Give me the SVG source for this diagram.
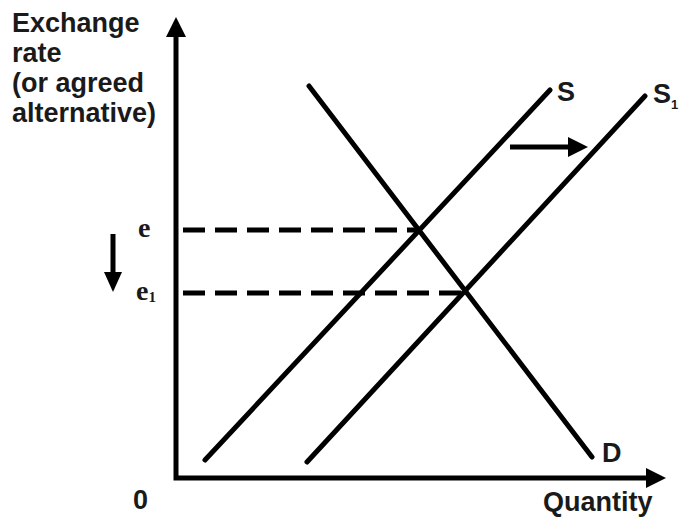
<svg xmlns="http://www.w3.org/2000/svg" width="680" height="517" viewBox="0 0 680 517">
<style>
.ln{stroke:#000;stroke-width:5;fill:none;stroke-linecap:round}
.ax{stroke:#000;stroke-width:5;fill:none}
.dash{stroke:#000;stroke-width:5;fill:none;stroke-dasharray:22 10}
.t{font-family:"Liberation Sans",Arial,sans-serif;font-weight:bold;font-size:27px;fill:#1a1a1a}
.s{font-family:"Liberation Serif","Times New Roman",serif;font-weight:bold;font-size:28px;fill:#1a1a1a}
</style>
<rect width="680" height="517" fill="#fff"/>
<g id="axes">
<path class="ax" d="M176 34 V478 H648"/>
<polygon points="176,17 166,37 186,37"/>
<polygon points="666,478 646,468 646,488"/>
</g>
<g id="connectors">
<path class="dash" d="M183 230 H418"/>
<path class="dash" d="M183 293 H466"/>
<path class="ax" d="M113 234 V274"/>
<polygon points="113,292 104,272 122,272"/>
<path class="ax" d="M510 147 H570"/>
<polygon points="588,147 568,137 568,157"/>
</g>
<g id="S"><path class="ln" d="M205 460 L550 90"/><text class="t" x="557" y="101">S</text></g>
<g id="S1"><path class="ln" d="M307 462 L645 96"/><text class="t" x="653" y="103">S<tspan font-size="13" dy="6">1</tspan></text></g>
<g id="D"><path class="ln" d="M309 86 L592 457"/><text class="t" x="602" y="462">D</text></g>
<g id="labels">
<text class="t" x="12" y="32">Exchange</text>
<text class="t" x="12" y="62">rate</text>
<text class="t" x="12" y="92">(or agreed</text>
<text class="t" x="12" y="122">alternative)</text>
<text class="t" x="133" y="509">0</text>
<text class="t" x="543" y="511">Quantity</text>
<text class="s" x="138" y="237">e</text>
<text class="s" x="136" y="300">e<tspan font-size="15" dy="2">1</tspan></text>
</g>
</svg>
